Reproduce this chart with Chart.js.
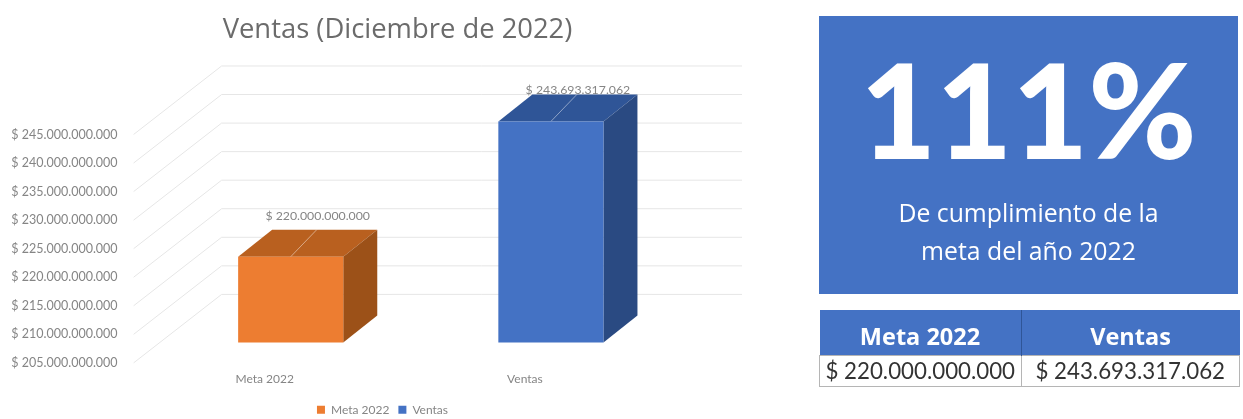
<!DOCTYPE html>
<html lang="es">
<head>
<meta charset="utf-8">
<title>Ventas (Diciembre de 2022)</title>
<script src="https://cdn.jsdelivr.net/npm/chart.js@4"></script>
<style>
  html, body { margin: 0; padding: 0; background: #fff; overflow: hidden; }
  #grafico { position: absolute; left: 0; top: 0; width: 794px; height: 419px; filter: blur(0.4px); }
  #panel {
    position: absolute; left: 819px; top: 16px; width: 419px; height: 278px;
    background: #4472c4; color: #fff; text-align: center;
    font-family: "Open Sans", sans-serif; filter: blur(0.4px);
  }
  #porcentaje {
    position: absolute; left: 0; right: 0; top: 14px;
    font: 900 131px/1.2 Lato, sans-serif;
  }
  #subtitulo {
    position: absolute; left: 0; right: 0; top: 177px;
    font-size: 24.8px; line-height: 38px;
  }
  table {
    position: absolute; left: 819px; top: 310px; width: 421px;
    border-collapse: collapse; table-layout: fixed; filter: blur(0.4px);
  }
  th {
    background: #4472c4; color: #fff; height: 39px; padding: 6px 0 0;
    font: 700 23.5px "Open Sans", sans-serif;
    border-right: 1px solid #2f5597;
  }
  th:first-child { width: 201px; }
  th:last-child { border-right: 0; }
  td {
    border: 1px solid #b5b5b5; padding: 0; text-align: center; height: 30px;
    font: 22.3px/30px Lato, sans-serif; color: #333;
  }
</style>
</head>
<body>
<canvas id="grafico" width="794" height="419"></canvas>
<div id="panel">
  <div id="porcentaje">111%</div>
  <div id="subtitulo">De cumplimiento de la<br>meta del año 2022</div>
</div>
<table>
  <tr id="cabecera"></tr>
  <tr id="valores"></tr>
</table>
<script>
// datos
const categorias = ['Meta 2022', 'Ventas'];
const ventas = [220000000000, 243693317062];
const coloresFrente = ['#ed7d31', '#4472c4'];
const coloresTecho = ['#b9601f', '#2f5597'];
const coloresLado = ['#9c5118', '#2a4a82'];
const ejeMin = 205000000000;
const ejeMax = 245000000000;
const ejePaso = 5000000000;

// profundidad de las barras y del piso en 3D
const fondoBarraX = 34, fondoBarraY = -27;
const paredX = 61, paredY = -48;
const pisoX = -27, pisoY = 20.5;
const alzaEtiqueta = [41, 31];
const colorTexto = '#858585';

function pesos(v) {
  return '$ ' + String(Math.round(v)).replace(/\B(?=(\d{3})+$)/g, '.');
}

// tabla de abajo a la derecha
categorias.forEach(function(c, i) {
  const th = document.createElement('th');
  th.textContent = c;
  document.getElementById('cabecera').appendChild(th);
  const td = document.createElement('td');
  td.textContent = pesos(ventas[i]);
  document.getElementById('valores').appendChild(td);
});

const efecto3d = {
  id: 'efecto3d',
  afterLayout(chart) {
    // titulo y leyenda no van centrados sobre el area del grafico
    chart.titleBlock.left += 57;
    chart.titleBlock.right += 57;
    chart.legend.left += 42;
    chart.legend.right += 42;
    chart.legend.top += 8.7;
    chart.legend.bottom += 8.7;
    // para que no se recorten las etiquetas del eje x
    chart.scales.x.bottom = chart.height;
  },
  beforeDatasetsDraw(chart) {
    const ctx = chart.ctx;
    const y = chart.scales.y;
    const area = chart.chartArea;
    ctx.save();
    // lineas de la pared y del piso
    ctx.strokeStyle = '#e6e6e6';
    ctx.lineWidth = 1;
    y.ticks.forEach(function(t) {
      const py = y.getPixelForValue(t.value);
      ctx.beginPath();
      ctx.moveTo(area.left + pisoX, py + pisoY);
      ctx.lineTo(area.left + paredX, py + paredY);
      ctx.lineTo(area.right + paredX, py + paredY);
      ctx.stroke();
    });
    const barras = chart.getDatasetMeta(0).data;
    barras.forEach(function(b, i) {
      const izq = b.x - b.width / 2, der = b.x + b.width / 2;
      const base = area.bottom;
      // etiqueta del valor, queda medio tapada por el techo
      ctx.fillStyle = colorTexto;
      ctx.font = '12.3px Lato, sans-serif';
      ctx.textAlign = 'center';
      ctx.textBaseline = 'middle';
      ctx.fillText(pesos(ventas[i]), b.x + 27, b.y - alzaEtiqueta[i]);
      // techo
      ctx.fillStyle = coloresTecho[i];
      ctx.beginPath();
      ctx.moveTo(izq, b.y);
      ctx.lineTo(izq + fondoBarraX, b.y + fondoBarraY);
      ctx.lineTo(der + fondoBarraX, b.y + fondoBarraY);
      ctx.lineTo(der, b.y);
      ctx.closePath();
      ctx.fill();
      // lado
      ctx.fillStyle = coloresLado[i];
      ctx.beginPath();
      ctx.moveTo(der, b.y);
      ctx.lineTo(der + fondoBarraX, b.y + fondoBarraY);
      ctx.lineTo(der + fondoBarraX, base + fondoBarraY);
      ctx.lineTo(der, base);
      ctx.closePath();
      ctx.fill();
      // linea guia de la etiqueta
      ctx.strokeStyle = 'rgba(255,255,255,0.45)';
      ctx.beginPath();
      ctx.moveTo(b.x, b.y);
      ctx.lineTo(b.x + 26, b.y + fondoBarraY);
      ctx.stroke();
    });
    ctx.restore();
  }
};

new Chart(document.getElementById('grafico').getContext('2d'), {
  type: 'bar',
  data: {
    labels: categorias,
    datasets: [{
      data: ventas,
      backgroundColor: coloresFrente,
      barPercentage: 0.404,
      categoryPercentage: 1
    }]
  },
  plugins: [efecto3d],
  options: {
    responsive: false,
    animation: false,
    layout: { padding: { right: 113, bottom: 2 } },
    plugins: {
      title: {
        display: true,
        text: 'Ventas (Diciembre de 2022)',
        color: '#6b6b6b',
        font: { family: 'Open Sans', size: 27.4, weight: 'normal' },
        padding: { top: 13.5, bottom: 67.6 }
      },
      legend: {
        position: 'bottom',
        labels: {
          boxWidth: 8,
          boxHeight: 8,
          padding: 9,
          color: colorTexto,
          font: { family: 'Lato', size: 12 },
          generateLabels() {
            return categorias.map(function(c, i) {
              return { text: c, fillStyle: coloresFrente[i], strokeStyle: coloresFrente[i], lineWidth: 0, index: i, fontColor: colorTexto };
            });
          }
        }
      },
      tooltip: { enabled: false }
    },
    scales: {
      x: {
        grid: { display: false, drawTicks: false },
        border: { display: false },
        ticks: { color: colorTexto, font: { family: 'Lato', size: 12 }, padding: 30, labelOffset: -26 },
        afterFit(s) { s.height = 43.6; }
      },
      y: {
        min: ejeMin,
        max: ejeMax,
        grid: { display: false, drawTicks: false },
        border: { display: false },
        ticks: {
          stepSize: ejePaso,
          color: colorTexto,
          font: { family: 'Lato', size: 12.5 },
          padding: 43,
          labelOffset: 20.5,
          callback: function(v) { return pesos(v); }
        },
        afterFit(s) { s.width = 160.6; }
      }
    }
  }
});
</script>
</body>
</html>
